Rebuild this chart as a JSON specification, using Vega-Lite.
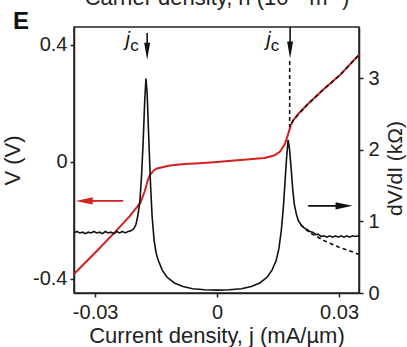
{
  "$schema": "https://vega.github.io/schema/vega-lite/v6.json",
  "width": 285,
  "height": 266,
  "autosize": "none",
  "padding": {"left": 74, "top": 27, "right": 48, "bottom": 54},
  "background": "white",
  "title": {"text": "E", "anchor": "start", "frame": "group", "fontSize": 24, "fontWeight": "bold", "font": "Liberation Sans", "color": "#111", "offset": 0, "dx": -61, "dy": 48},
  "config": {
    "view": {"stroke": "#222", "strokeWidth": 1.5},
    "axis": {"domainColor": "#222", "domainWidth": 1.5, "tickColor": "#222", "tickWidth": 1.5, "tickSize": 4, "labelFont": "Liberation Sans", "titleFont": "Liberation Sans", "labelFontSize": 20, "titleFontSize": 21, "labelColor": "#222", "titleColor": "#222", "titleFontWeight": "normal", "grid": false}
  },
  "datasets": {
    "dvdi": [
      {"j": -0.0352, "r": 0.84}, {"j": -0.0345, "r": 0.86}, {"j": -0.0338, "r": 0.84}, {"j": -0.0331, "r": 0.85},
      {"j": -0.0324, "r": 0.83}, {"j": -0.0317, "r": 0.85}, {"j": -0.031, "r": 0.84}, {"j": -0.0303, "r": 0.86},
      {"j": -0.0296, "r": 0.84}, {"j": -0.0289, "r": 0.85}, {"j": -0.0282, "r": 0.83}, {"j": -0.0275, "r": 0.86},
      {"j": -0.0268, "r": 0.84}, {"j": -0.0261, "r": 0.85}, {"j": -0.0254, "r": 0.83}, {"j": -0.0247, "r": 0.86},
      {"j": -0.024, "r": 0.84}, {"j": -0.0233, "r": 0.86}, {"j": -0.0226, "r": 0.84}, {"j": -0.0219, "r": 0.86},
      {"j": -0.0212, "r": 0.87}, {"j": -0.0205, "r": 0.9}, {"j": -0.02, "r": 0.95}, {"j": -0.0195, "r": 1.08},
      {"j": -0.019, "r": 1.28}, {"j": -0.0186, "r": 1.62}, {"j": -0.0182, "r": 2.1}, {"j": -0.0178, "r": 2.7},
      {"j": -0.0175, "r": 3.0}, {"j": -0.0172, "r": 2.78}, {"j": -0.0168, "r": 2.15}, {"j": -0.0164, "r": 1.55},
      {"j": -0.016, "r": 1.08}, {"j": -0.0155, "r": 0.74}, {"j": -0.015, "r": 0.56}, {"j": -0.0145, "r": 0.46},
      {"j": -0.0135, "r": 0.32}, {"j": -0.0123, "r": 0.22}, {"j": -0.0105, "r": 0.14}, {"j": -0.0084, "r": 0.09},
      {"j": -0.006, "r": 0.06}, {"j": -0.003, "r": 0.045}, {"j": 0, "r": 0.04}, {"j": 0.003, "r": 0.045},
      {"j": 0.006, "r": 0.06}, {"j": 0.0084, "r": 0.09}, {"j": 0.0105, "r": 0.14}, {"j": 0.0123, "r": 0.22},
      {"j": 0.0135, "r": 0.32}, {"j": 0.0145, "r": 0.45}, {"j": 0.0152, "r": 0.62}, {"j": 0.0158, "r": 0.88},
      {"j": 0.0163, "r": 1.2}, {"j": 0.0167, "r": 1.55}, {"j": 0.0171, "r": 1.9}, {"j": 0.01746, "r": 2.14},
      {"j": 0.0178, "r": 2.02}, {"j": 0.0182, "r": 1.75}, {"j": 0.0186, "r": 1.45}, {"j": 0.019, "r": 1.24},
      {"j": 0.0195, "r": 1.1}, {"j": 0.02, "r": 1.01}, {"j": 0.0207, "r": 0.95}, {"j": 0.0214, "r": 0.91},
      {"j": 0.0221, "r": 0.89}, {"j": 0.0228, "r": 0.86}, {"j": 0.0235, "r": 0.85}, {"j": 0.0242, "r": 0.82},
      {"j": 0.0249, "r": 0.82}, {"j": 0.0256, "r": 0.79}, {"j": 0.0263, "r": 0.8}, {"j": 0.027, "r": 0.78},
      {"j": 0.0277, "r": 0.8}, {"j": 0.0284, "r": 0.78}, {"j": 0.0291, "r": 0.8}, {"j": 0.0298, "r": 0.78},
      {"j": 0.0305, "r": 0.8}, {"j": 0.0312, "r": 0.78}, {"j": 0.0319, "r": 0.8}, {"j": 0.0326, "r": 0.78},
      {"j": 0.0333, "r": 0.8}, {"j": 0.034, "r": 0.79}, {"j": 0.0349, "r": 0.8}
    ],
    "dvdiFit": [
      {"j": 0.0205, "r": 0.96}, {"j": 0.0215, "r": 0.9}, {"j": 0.0225, "r": 0.86}, {"j": 0.0235, "r": 0.82},
      {"j": 0.0248, "r": 0.78}, {"j": 0.026, "r": 0.74}, {"j": 0.028, "r": 0.69}, {"j": 0.03, "r": 0.64},
      {"j": 0.032, "r": 0.6}, {"j": 0.034, "r": 0.56}, {"j": 0.0349, "r": 0.54}
    ],
    "V": [
      {"j": -0.0352, "v": -0.383}, {"j": -0.0293, "v": -0.3}, {"j": -0.025, "v": -0.238}, {"j": -0.0215, "v": -0.185},
      {"j": -0.0189, "v": -0.14}, {"j": -0.0178, "v": -0.1}, {"j": -0.017, "v": -0.06}, {"j": -0.0165, "v": -0.044},
      {"j": -0.0155, "v": -0.028}, {"j": -0.0148, "v": -0.022}, {"j": -0.0116, "v": -0.012}, {"j": -0.008, "v": -0.007},
      {"j": -0.0042, "v": -0.004}, {"j": 0, "v": 0}, {"j": 0.0042, "v": 0.005}, {"j": 0.008, "v": 0.009},
      {"j": 0.0116, "v": 0.014}, {"j": 0.014, "v": 0.022}, {"j": 0.0155, "v": 0.036}, {"j": 0.0167, "v": 0.062},
      {"j": 0.0175, "v": 0.097}, {"j": 0.0181, "v": 0.125}, {"j": 0.0187, "v": 0.142}, {"j": 0.02, "v": 0.165},
      {"j": 0.0221, "v": 0.195}, {"j": 0.026, "v": 0.246}, {"j": 0.0302, "v": 0.297}, {"j": 0.0344, "v": 0.359},
      {"j": 0.0349, "v": 0.366}
    ],
    "Vfit": [
      {"o": 1, "j": 0.01785, "v": 0.345}, {"o": 2, "j": 0.01785, "v": 0.12}, {"o": 3, "j": 0.0187, "v": 0.142},
      {"o": 4, "j": 0.0221, "v": 0.195}, {"o": 5, "j": 0.026, "v": 0.246}, {"o": 6, "j": 0.0302, "v": 0.297},
      {"o": 7, "j": 0.0344, "v": 0.359}, {"o": 8, "j": 0.0349, "v": 0.366}
    ],
    "arrows": [
      {"kind": "jc", "j1": -0.01721, "j2": -0.01721, "v1": 0.441, "v2": 0.385},
      {"kind": "jc", "j1": 0.01795, "j2": 0.01795, "v1": 0.4615, "v2": 0.39},
      {"kind": "V", "j1": -0.0231, "j2": -0.0325, "v1": -0.133, "v2": -0.133},
      {"kind": "dVdI", "j1": 0.0224, "j2": 0.0313, "v1": -0.15, "v2": -0.15}
    ],
    "heads": [
      {"kind": "jc", "dir": "down", "j": -0.01721, "v": 0.379},
      {"kind": "jc", "dir": "down", "j": 0.01795, "v": 0.383},
      {"kind": "V", "dir": "left", "j": -0.0327, "v": -0.133},
      {"kind": "dVdI", "dir": "right", "j": 0.03123, "v": -0.15}
    ],
    "labels": [
      {"t": "j", "j": -0.022, "v": 0.397}, {"t": "c", "j": -0.0203, "v": 0.379},
      {"t": "j", "j": 0.01266, "v": 0.397}, {"t": "c", "j": 0.01426, "v": 0.379}
    ]
  },
  "layer": [
    {
      "layer": [
        {
          "mark": {"type": "rule", "color": "#8a8a8a", "strokeWidth": 1.3},
          "encoding": {"y": {"datum": 0, "type": "quantitative"}}
        },
        {
          "mark": {"type": "rule", "color": "#8a8a8a", "strokeWidth": 1.3},
          "encoding": {"x": {"datum": 0, "type": "quantitative"}, "y": {"datum": 0, "type": "quantitative"}, "y2": {"datum": -0.4479}}
        },
        {
          "data": {"name": "V"},
          "mark": {"type": "line", "color": "#d42020", "strokeWidth": 2},
          "encoding": {
            "x": {"field": "j", "type": "quantitative", "scale": {"domain": [-0.0352, 0.0349], "nice": false, "zero": false},
              "axis": {"orient": "bottom", "values": [-0.03, 0, 0.03], "labelExpr": "datum.value < 0 ? '-' + format(-datum.value, '.2f') : datum.value == 0 ? '0' : format(datum.value, '.2f')", "labelPadding": 5, "title": "Current density, j (mA/µm)", "titlePadding": 3, "titleFontSize": 22}},
            "y": {"field": "v", "type": "quantitative", "scale": {"domain": [-0.4479, 0.4615], "nice": false, "zero": false},
              "axis": {"orient": "left", "values": [-0.4, 0, 0.4], "labelExpr": "datum.value < 0 ? '-' + format(-datum.value, '.1f') : datum.value == 0 ? '0' : format(datum.value, '.1f')", "labelPadding": 3, "title": "V (V)", "titlePadding": 8, "titleFontSize": 22}}
          }
        },
        {
          "data": {"name": "Vfit"},
          "mark": {"type": "line", "color": "#111", "strokeWidth": 1.6, "strokeDash": [4, 3]},
          "encoding": {
            "x": {"field": "j", "type": "quantitative"},
            "y": {"field": "v", "type": "quantitative"},
            "order": {"field": "o", "type": "quantitative"}
          }
        },
        {
          "data": {"name": "arrows"},
          "mark": {"type": "rule", "strokeWidth": 1.6},
          "encoding": {
            "x": {"field": "j1", "type": "quantitative"},
            "x2": {"field": "j2"},
            "y": {"field": "v1", "type": "quantitative"},
            "y2": {"field": "v2"},
            "color": {"field": "kind", "type": "nominal", "scale": {"domain": ["V", "dVdI", "jc"], "range": ["#d42020", "#111", "#111"]}, "legend": null}
          }
        },
        {
          "data": {"name": "heads"},
          "mark": {"type": "point", "filled": true, "size": 289, "opacity": 1},
          "encoding": {
            "x": {"field": "j", "type": "quantitative"},
            "y": {"field": "v", "type": "quantitative"},
            "shape": {"field": "dir", "type": "nominal", "scale": {"domain": ["down", "left", "right"], "range": ["M-0.35,-1L0.35,-1L0,1Z", "M1,-0.42L1,0.42L-1,0Z", "M-1,-0.42L-1,0.42L1,0Z"]}, "legend": null},
            "color": {"field": "kind", "type": "nominal", "scale": {"domain": ["V", "dVdI", "jc"], "range": ["#d42020", "#111", "#111"]}, "legend": null}
          }
        },
        {
          "data": {"name": "labels"},
          "transform": [{"filter": "datum.t == 'j'"}],
          "mark": {"type": "text", "font": "Liberation Sans", "fontSize": 20, "fontStyle": "italic", "color": "#111", "baseline": "alphabetic", "align": "center"},
          "encoding": {
            "x": {"field": "j", "type": "quantitative"},
            "y": {"field": "v", "type": "quantitative"},
            "text": {"field": "t"}
          }
        },
        {
          "data": {"name": "labels"},
          "transform": [{"filter": "datum.t == 'c'"}],
          "mark": {"type": "text", "font": "Liberation Sans", "fontSize": 17, "color": "#111", "baseline": "alphabetic", "align": "center"},
          "encoding": {
            "x": {"field": "j", "type": "quantitative"},
            "y": {"field": "v", "type": "quantitative"},
            "text": {"field": "t"}
          }
        }
      ]
    },
    {
      "layer": [
        {
          "data": {"name": "dvdi"},
          "mark": {"type": "line", "color": "#111", "strokeWidth": 1.6},
          "encoding": {
            "x": {"field": "j", "type": "quantitative", "scale": {"domain": [-0.0352, 0.0349], "nice": false, "zero": false}, "axis": null},
            "y": {"field": "r", "type": "quantitative", "scale": {"domain": [0, 3.72], "nice": false, "zero": false},
              "axis": {"orient": "right", "values": [0, 1, 2, 3], "format": "d", "labelPadding": 5, "title": "dV/dI (kΩ)", "titleAngle": 270, "titleBaseline": "top", "titlePadding": 5, "titleFontSize": 21, "titleY": 141}}
          }
        },
        {
          "data": {"name": "dvdiFit"},
          "mark": {"type": "line", "color": "#111", "strokeWidth": 1.6, "strokeDash": [4, 3]},
          "encoding": {
            "x": {"field": "j", "type": "quantitative"},
            "y": {"field": "r", "type": "quantitative"}
          }
        }
      ]
    },
    {
      "mark": {"type": "rule", "opacity": 0},
      "encoding": {
        "x": {"datum": 0, "type": "quantitative", "scale": {"domain": [-0.0352, 0.0349], "nice": false, "zero": false},
          "axis": {"orient": "top", "ticks": false, "labels": false, "domain": false, "title": "Carrier density, n (10¹² m⁻²)", "titlePadding": 23, "titleBaseline": "alphabetic", "titleFontSize": 22}}
      }
    }
  ],
  "resolve": {"scale": {"x": "independent", "y": "independent"}}
}
